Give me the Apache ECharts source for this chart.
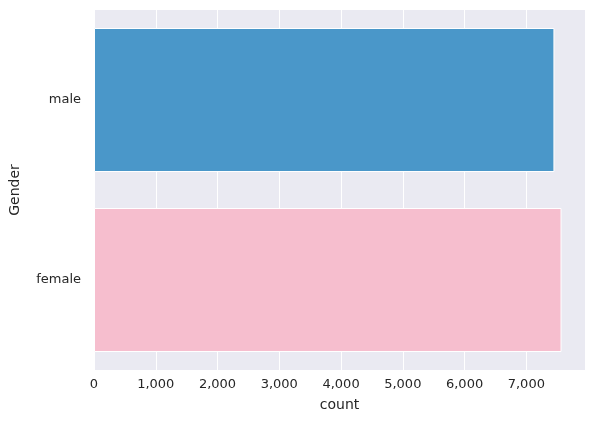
<!DOCTYPE html>
<html>
<head>
<meta charset="utf-8">
<script src="https://cdn.jsdelivr.net/npm/echarts@6/dist/echarts.min.js"></script>
<style>
  html, body { margin: 0; padding: 0; background: #fff; }
  #chart { width: 595px; height: 437px; }
</style>
</head>
<body>
<div id="chart"></div>
<script>
var categories = ['male', 'female'];
var counts = [7455, 7570];
var barColors = ['#4a97c9', '#f6bece'];

var chart = echarts.init(document.getElementById('chart'));
var font = 'DejaVu Sans';
chart.setOption({
  animation: false,
  grid: { left: 90, right: 10, top: 10, bottom: 67, backgroundColor: '#eaeaf2', show: true, borderWidth: 0 },
  xAxis: {
    type: 'value', min: 0, max: 7950, interval: 1000,
    name: 'count', nameLocation: 'middle', nameGap: 28,
    nameTextStyle: { color: '#262626', fontSize: 14, fontFamily: font },
    axisLine: { show: false }, axisTick: { show: false },
    axisLabel: { color: '#262626', fontSize: 13, fontFamily: font, margin: 8, showMaxLabel: false },
    splitLine: { show: true, lineStyle: { color: '#fff', width: 1 } }
  },
  yAxis: {
    type: 'category', data: categories, inverse: true,
    name: 'Gender', nameLocation: 'middle', nameGap: 72, nameRotate: 90,
    nameTextStyle: { color: '#262626', fontSize: 14, fontFamily: font },
    axisLine: { show: false }, axisTick: { show: false },
    axisLabel: { color: '#262626', fontSize: 13, fontFamily: font, margin: 13 },
    splitLine: { show: false }
  },
  series: [{
    type: 'bar', barWidth: '80%',
    data: counts.map(function (v, i) {
      return { value: v, itemStyle: { color: barColors[i], borderColor: '#fff', borderWidth: 1 } };
    })
  }]
});
</script>
</body>
</html>
